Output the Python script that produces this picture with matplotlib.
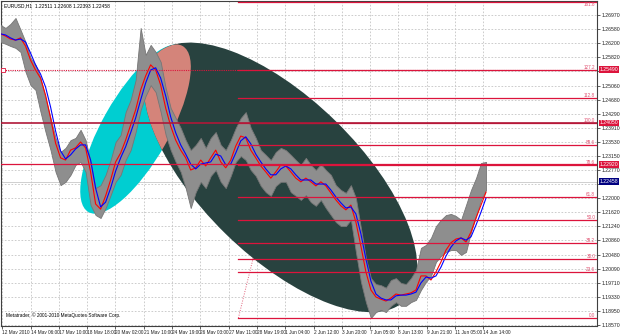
import numpy as np
import matplotlib
matplotlib.use("Agg")
import matplotlib.pyplot as plt
from matplotlib.patches import Ellipse
from matplotlib.transforms import IdentityTransform

plt.rcParams["font.family"] = ["Liberation Sans", "DejaVu Sans"]

# ---------------- data (EURUSD H1, sampled every ~5.66 bars) ----------------
high = [1.2670, 1.2662, 1.2673, 1.2689, 1.2657, 1.2624, 1.2581, 1.2562, 1.2526, 1.2472,
        1.2418, 1.2364, 1.2326, 1.2337, 1.2358, 1.2364, 1.2386, 1.2358, 1.2299, 1.2228,
        1.2236, 1.2264, 1.2304, 1.2353, 1.2372, 1.2434, 1.2467, 1.2521, 1.2662, 1.2589,
        1.2616, 1.2597, 1.2570, 1.2499, 1.2445, 1.2418, 1.2391, 1.2358, 1.2331, 1.2345,
        1.2364, 1.2337, 1.2364, 1.2380, 1.2345, 1.2331, 1.2358, 1.2391, 1.2418, 1.2434,
        1.2391, 1.2364, 1.2331, 1.2318, 1.2304, 1.2326, 1.2337, 1.2331, 1.2318, 1.2304,
        1.2291, 1.2310, 1.2291, 1.2277, 1.2293, 1.2277, 1.2264, 1.2236, 1.2223, 1.2215,
        1.2236, 1.2201, 1.2120, 1.2039, 1.1984, 1.1968, 1.1965, 1.1958, 1.1979, 1.1984,
        1.1971, 1.1968, 1.1984, 1.2006, 1.2066, 1.2074, 1.2093, 1.2125, 1.2142, 1.2155,
        1.2158, 1.2152, 1.2142, 1.2182, 1.2223, 1.2255, 1.2296, 1.2299]
low = [1.2624, 1.2619, 1.2613, 1.2608, 1.2597, 1.2543, 1.2507, 1.2494, 1.2434, 1.2380,
       1.2331, 1.2272, 1.2236, 1.2245, 1.2264, 1.2291, 1.2299, 1.2272, 1.2182, 1.2155,
       1.2147, 1.2174, 1.2209, 1.2245, 1.2264, 1.2304, 1.2331, 1.2380, 1.2440, 1.2478,
       1.2507, 1.2488, 1.2434, 1.2372, 1.2331, 1.2299, 1.2272, 1.2228, 1.2174, 1.2217,
       1.2245, 1.2228, 1.2261, 1.2277, 1.2245, 1.2228, 1.2261, 1.2299, 1.2315, 1.2304,
       1.2277, 1.2261, 1.2234, 1.2217, 1.2207, 1.2234, 1.2245, 1.2245, 1.2217, 1.2207,
       1.2196, 1.2209, 1.2190, 1.2180, 1.2196, 1.2174, 1.2155, 1.2136, 1.2125, 1.2125,
       1.2142, 1.2055, 1.1974, 1.1919, 1.1876, 1.1892, 1.1898, 1.1892, 1.1909, 1.1919,
       1.1909, 1.1909, 1.1919, 1.1925, 1.1952, 1.1974, 1.1990, 1.2028, 1.2044, 1.2055,
       1.2060, 1.2060, 1.2047, 1.2055, 1.2109, 1.2152, 1.2196, 1.2223]
ma_fast = [1.2646, 1.2640, 1.2632, 1.2629, 1.2635, 1.2613, 1.2575, 1.2548, 1.2526, 1.2480,
           1.2418, 1.2350, 1.2310, 1.2304, 1.2331, 1.2337, 1.2353, 1.2337, 1.2272, 1.2185,
           1.2171, 1.2207, 1.2250, 1.2299, 1.2323, 1.2358, 1.2399, 1.2440, 1.2494, 1.2532,
           1.2562, 1.2548, 1.2507, 1.2445, 1.2396, 1.2358, 1.2331, 1.2310, 1.2277, 1.2283,
           1.2304, 1.2288, 1.2310, 1.2331, 1.2299, 1.2283, 1.2304, 1.2342, 1.2369, 1.2364,
           1.2331, 1.2310, 1.2288, 1.2272, 1.2255, 1.2272, 1.2291, 1.2288, 1.2272, 1.2255,
           1.2245, 1.2255, 1.2245, 1.2234, 1.2245, 1.2234, 1.2215, 1.2196, 1.2180, 1.2169,
           1.2182, 1.2136, 1.2071, 1.2001, 1.1952, 1.1933, 1.1927, 1.1922, 1.1930, 1.1941,
           1.1938, 1.1941, 1.1944, 1.1952, 1.1990, 1.1990, 1.1979, 1.2001, 1.2028, 1.2060,
           1.2080, 1.2090, 1.2093, 1.2082, 1.2109, 1.2147, 1.2182, 1.2217]
ma_slow = [1.2646, 1.2643, 1.2635, 1.2629, 1.2632, 1.2624, 1.2594, 1.2562, 1.2537, 1.2502,
           1.2448, 1.2383, 1.2329, 1.2307, 1.2318, 1.2334, 1.2345, 1.2345, 1.2304, 1.2228,
           1.2177, 1.2190, 1.2228, 1.2274, 1.2310, 1.2340, 1.2378, 1.2418, 1.2467, 1.2513,
           1.2548, 1.2554, 1.2526, 1.2478, 1.2421, 1.2378, 1.2345, 1.2320, 1.2293, 1.2280,
           1.2293, 1.2296, 1.2299, 1.2320, 1.2315, 1.2291, 1.2293, 1.2323, 1.2356, 1.2367,
           1.2348, 1.2320, 1.2299, 1.2280, 1.2264, 1.2264, 1.2280, 1.2288, 1.2280, 1.2264,
           1.2250, 1.2250, 1.2250, 1.2239, 1.2239, 1.2239, 1.2223, 1.2204, 1.2188, 1.2174,
           1.2177, 1.2158, 1.2104, 1.2036, 1.1976, 1.1941, 1.1930, 1.1925, 1.1925, 1.1936,
           1.1938, 1.1938, 1.1941, 1.1946, 1.1971, 1.1987, 1.1984, 1.1990, 1.2014, 1.2044,
           1.2068, 1.2085, 1.2093, 1.2087, 1.2096, 1.2128, 1.2163, 1.2201]
sample_bar = np.arange(len(high)) * 5.66

date_labels = ["12 May 2010", "14 May 06:00", "17 May 10:00", "18 May 18:00", "20 May 02:00",
               "21 May 10:00", "24 May 19:00", "26 May 03:00", "27 May 11:00", "28 May 19:00",
               "1 Jun 04:00", "2 Jun 12:00", "3 Jun 20:00", "7 Jun 05:00", "8 Jun 13:00",
               "9 Jun 21:00", "11 Jun 05:00", "14 Jun 14:00"]
date_bars = [2 + 32 * i for i in range(len(date_labels))]

price_ticks = [1.18570, 1.18950, 1.19330, 1.19710, 1.20090, 1.20480, 1.20860, 1.21240,
               1.21620, 1.22000, 1.22390, 1.22770, 1.23150, 1.23530, 1.23910, 1.24290,
               1.24680, 1.25060, 1.25440, 1.25820, 1.26200, 1.26580, 1.26970]

fib_low, fib_high = 1.1876, 1.2405
fib_start_bar, fib_end_bar = 269, 323.5
fib_levels = [0.0, 0.236, 0.30, 0.382, 0.5, 0.618, 0.786, 0.886, 1.0, 1.128, 1.272, 1.618]
fib_names = ["0.0", "23.6", "30.0", "38.2", "50.0", "61.8", "78.6", "88.6", "100.0",
             "112.8", "127.2", "161.8"]
hlines = [1.2549, 1.2405, 1.2292]
hline_labels = ["1.25490", "1.24050", "1.22920"]
bid = 1.22458
header = "EURUSD,H1  1.22511 1.22608 1.22393 1.22458"

cyan_axis = [(99.5, 1.2163), (205.9, 1.2613)]
dark_axis = [(175.3, 1.2589), (458.1, 1.1925)]

# ---------------- figure ----------------
W, H = 625, 334
fig = plt.figure(figsize=(W / 100, H / 100), dpi=100)
ax = fig.add_axes([0.5 / W, 8 / H, 596.5 / W, 325 / H])
ax.set_facecolor("white")
ax.set_xlim(0, 674.5)
ax.set_ylim(1.18543, 1.27350)

ax.set_xticks(date_bars)
ax.set_xticklabels(date_labels, fontsize=3.4, ha="left")
ax.set_yticks(price_ticks)
ax.set_yticklabels([f"{p:.5f}" for p in price_ticks], fontsize=3.7)
ax.yaxis.tick_right()
ax.tick_params(axis="both", length=2, width=0.5, pad=1.2, colors="#202020")
ax.tick_params(axis="x", pad=0.8)
for s in ax.spines.values():
    s.set_color("#404040")
    s.set_linewidth(0.8)
ax.grid(True, color="#c4c4c4", linestyle=(0, (2, 2)), linewidth=0.6, zorder=0)
ax.set_axisbelow(True)

# hide axis labels that sit under the price boxes
boxed = hlines + [bid]
for val, lbl in zip(price_ticks, ax.get_yticklabels()):
    if min(abs(val - b) for b in boxed) < 0.0010:
        lbl.set_visible(False)

fig.canvas.draw()


def ellipse(p1, p2, ratio, **kw):
    d1 = ax.transData.transform(p1)
    d2 = ax.transData.transform(p2)
    c = (d1 + d2) / 2
    L = np.hypot(*(d2 - d1))
    ang = np.degrees(np.arctan2(d2[1] - d1[1], d2[0] - d1[0]))
    return Ellipse(c, L, L * ratio, angle=ang, transform=IdentityTransform(), **kw)


# fib dotted connecting line (behind ellipse)
ax.plot([fib_start_bar, fib_end_bar], [fib_low, fib_high], color="#e0607a",
        linestyle=(0, (1, 1.5)), linewidth=0.7, zorder=1)

cy = ellipse(*cyan_axis, 0.35, facecolor="#00CED1", edgecolor="none", zorder=2)
ax.add_patch(cy)
dk = ellipse(*dark_axis, 0.45, facecolor="#28423f", edgecolor="none", zorder=2.1)
ax.add_patch(dk)
ov = ellipse(*cyan_axis, 0.35, facecolor="#d4847a", edgecolor="none", zorder=2.2)
ax.add_patch(ov)
ov.set_clip_path(dk)

# bid line
ax.axhline(bid, color="#c8c8c8", linewidth=0.6, zorder=1)

# price bars (hi-lo band) and moving averages
ax.fill_between(sample_bar, low, high, color="#8e8e8e", linewidth=0.6,
                edgecolor="#767676", zorder=3)
ax.plot(sample_bar, ma_fast, color="#ff0000", linewidth=0.8, zorder=4)
ax.plot(sample_bar, ma_slow, color="#0000ff", linewidth=0.8, zorder=4.1)

# fibonacci levels
xmax = ax.get_xlim()[1]
for lv, nm in zip(fib_levels, fib_names):
    p = fib_low + lv * (fib_high - fib_low)
    ax.plot([fib_start_bar, xmax], [p, p], color="#dc143c", linewidth=0.9, zorder=5)
    ax.text(xmax - 2, p, nm, fontsize=3.3, color="#e05070", ha="right",
            va="top" if lv > 1.5 else "bottom", zorder=6)

# horizontal lines (full width)
ax.axhline(hlines[0], color="#dc143c", linewidth=0.8, linestyle=(0, (1, 1)), zorder=5)
ax.axhline(hlines[1], color="#b01838", linewidth=1.2, zorder=5)
ax.axhline(hlines[2], color="#dc143c", linewidth=0.9, zorder=5)
ax.plot([2.5], [hlines[0]], marker="s", markersize=2.5, markerfacecolor="white",
        markeredgecolor="#dc143c", markeredgewidth=0.6, zorder=6)

# axis price boxes
for p, t in zip(hlines, hline_labels):
    ax.text(1.004, p, t, transform=ax.get_yaxis_transform(), fontsize=3.7, color="white",
            ha="left", va="center", zorder=10, clip_on=False,
            bbox=dict(boxstyle="square,pad=0.15", facecolor="#dc143c", edgecolor="none"))
ax.text(1.004, bid, f"{bid:.5f}", transform=ax.get_yaxis_transform(), fontsize=3.7,
        color="white", ha="left", va="center", zorder=10, clip_on=False,
        bbox=dict(boxstyle="square,pad=0.15", facecolor="#000080", edgecolor="none"))

ax.text(0.006, 0.992, header, transform=ax.transAxes, fontsize=3.5, color="black",
        ha="left", va="top", zorder=10)
ax.text(0.009, 0.025, "Metatrader, © 2001-2010 MetaQuotes Software Corp.",
        transform=ax.transAxes, fontsize=3.4, color="black", ha="left", va="bottom", zorder=10)

fig.savefig("out.png", dpi=100)
